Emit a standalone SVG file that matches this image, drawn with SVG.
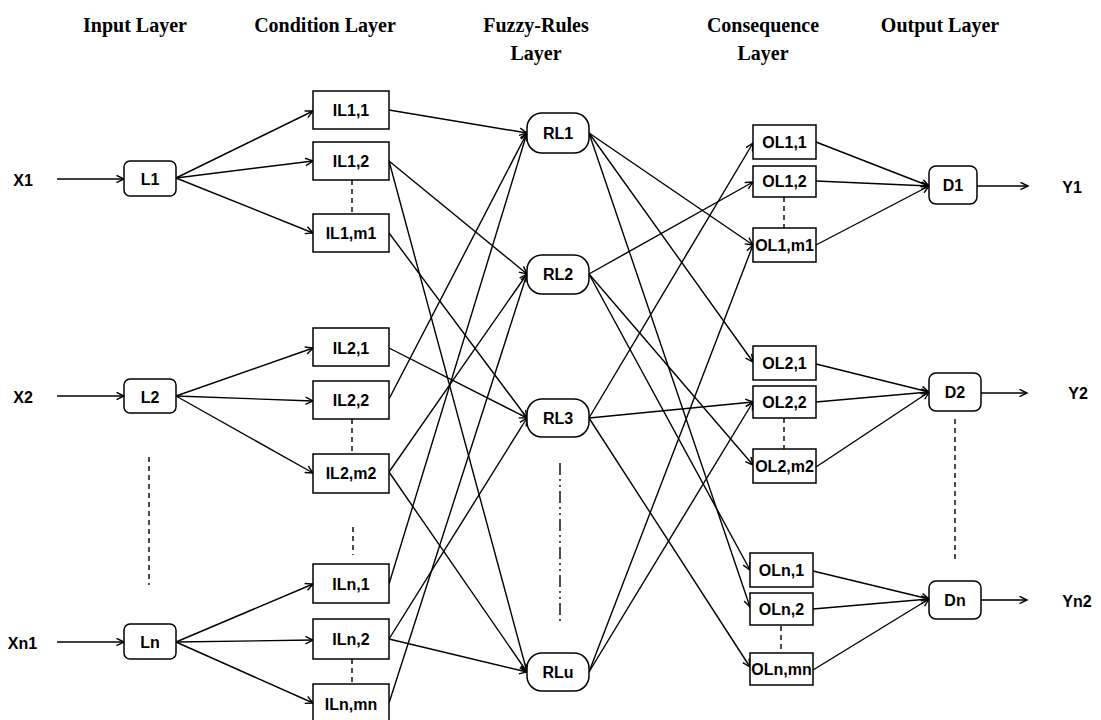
<svg xmlns="http://www.w3.org/2000/svg" width="1101" height="720" viewBox="0 0 1101 720">
  <style>
    .hdr { font-family: "Liberation Serif", "Times New Roman", serif; font-weight: bold; font-size: 20px; fill: #000; text-anchor: middle; }
    .lbl { font-family: "Liberation Sans", Arial, sans-serif; font-weight: bold; font-size: 16px; fill: #000; text-anchor: middle; dominant-baseline: central; }
    .box { fill: #fff; stroke: #000; stroke-width: 1.5; }
    .edge { fill: none; stroke: #000; stroke-width: 1.4; marker-end: url(#arrow); }
    .dash { fill: none; stroke: #000; stroke-width: 1.4; stroke-dasharray: 5 4; }
    .dashdot { fill: none; stroke: #000; stroke-width: 1.4; stroke-dasharray: 12 4 2 4 2 4; }
  </style>
  <defs>
    <marker id="arrow" markerWidth="10" markerHeight="10" refX="8.5" refY="4.5" orient="auto" markerUnits="userSpaceOnUse">
      <path d="M1,0.8 L8.5,4.5 L1,8.2" fill="none" stroke="#000" stroke-width="1.4"/>
    </marker>
  </defs>
  <rect width="1101" height="720" fill="#fff"/>

  <!-- layer headings -->
  <g id="headers">
    <text class="hdr" x="135" y="32">Input Layer</text>
    <text class="hdr" x="325" y="32">Condition Layer</text>
    <text class="hdr" x="536" y="32">Fuzzy-Rules</text>
    <text class="hdr" x="536" y="60">Layer</text>
    <text class="hdr" x="763" y="32">Consequence</text>
    <text class="hdr" x="763" y="60">Layer</text>
    <text class="hdr" x="940" y="32">Output Layer</text>
  </g>

  <!-- connectors -->
  <g id="connectors">
    <!-- inputs -->
    <line class="edge" x1="57" y1="179" x2="124" y2="179"/>
    <line class="edge" x1="57" y1="396" x2="124" y2="396"/>
    <line class="edge" x1="57" y1="642" x2="124" y2="642"/>
    <!-- input layer to condition layer -->
    <line class="edge" x1="176" y1="178" x2="313" y2="111"/>
    <line class="edge" x1="176" y1="178" x2="313" y2="161"/>
    <line class="edge" x1="176" y1="178" x2="313" y2="233"/>
    <line class="edge" x1="176" y1="396" x2="313" y2="348"/>
    <line class="edge" x1="176" y1="396" x2="313" y2="401"/>
    <line class="edge" x1="176" y1="396" x2="313" y2="473"/>
    <line class="edge" x1="176" y1="642" x2="313" y2="584"/>
    <line class="edge" x1="176" y1="642" x2="313" y2="640"/>
    <line class="edge" x1="176" y1="642" x2="313" y2="703"/>
    <!-- condition layer to rules -->
    <line class="edge" x1="389" y1="110" x2="527" y2="133"/>
    <line class="edge" x1="389" y1="161" x2="527" y2="274"/>
    <line class="edge" x1="389" y1="161" x2="527" y2="672"/>
    <line class="edge" x1="389" y1="233" x2="527" y2="418"/>
    <line class="edge" x1="389" y1="348" x2="527" y2="418"/>
    <line class="edge" x1="389" y1="399" x2="527" y2="133"/>
    <line class="edge" x1="389" y1="472" x2="527" y2="274"/>
    <line class="edge" x1="389" y1="472" x2="527" y2="672"/>
    <line class="edge" x1="389" y1="584" x2="527" y2="133"/>
    <line class="edge" x1="389" y1="639" x2="527" y2="418"/>
    <line class="edge" x1="389" y1="639" x2="527" y2="672"/>
    <line class="edge" x1="389" y1="703" x2="527" y2="274"/>
    <!-- rules to consequence layer -->
    <line class="edge" x1="589" y1="133" x2="753" y2="245"/>
    <line class="edge" x1="589" y1="133" x2="753" y2="362"/>
    <line class="edge" x1="589" y1="133" x2="750" y2="607"/>
    <line class="edge" x1="589" y1="274" x2="753" y2="182"/>
    <line class="edge" x1="589" y1="274" x2="753" y2="465"/>
    <line class="edge" x1="589" y1="274" x2="750" y2="570"/>
    <line class="edge" x1="589" y1="418" x2="753" y2="143"/>
    <line class="edge" x1="589" y1="418" x2="753" y2="402"/>
    <line class="edge" x1="589" y1="418" x2="750" y2="667"/>
    <line class="edge" x1="589" y1="672" x2="753" y2="245"/>
    <line class="edge" x1="589" y1="672" x2="753" y2="402"/>
    <!-- consequence layer to output layer -->
    <line class="edge" x1="816" y1="142" x2="929" y2="186"/>
    <line class="edge" x1="816" y1="181" x2="929" y2="186"/>
    <line class="edge" x1="816" y1="245" x2="929" y2="186"/>
    <line class="edge" x1="816" y1="364" x2="929" y2="392"/>
    <line class="edge" x1="816" y1="402" x2="929" y2="392"/>
    <line class="edge" x1="816" y1="467" x2="929" y2="392"/>
    <line class="edge" x1="813" y1="571" x2="929" y2="599"/>
    <line class="edge" x1="813" y1="609" x2="929" y2="599"/>
    <line class="edge" x1="813" y1="670" x2="929" y2="599"/>
    <!-- outputs -->
    <line class="edge" x1="977" y1="186" x2="1028" y2="186"/>
    <line class="edge" x1="981" y1="393" x2="1027" y2="393"/>
    <line class="edge" x1="981" y1="600" x2="1027" y2="600"/>
    <!-- ellipsis marks -->
    <line class="dash" x1="352" y1="180" x2="352" y2="213"/>
    <line class="dash" x1="352" y1="419" x2="352" y2="453"/>
    <line class="dash" x1="352" y1="659" x2="352" y2="684"/>
    <line class="dash" x1="353" y1="527" x2="353" y2="555"/>
    <line class="dash" x1="149" y1="457" x2="149" y2="585"/>
    <line class="dash" x1="784" y1="197" x2="784" y2="228"/>
    <line class="dash" x1="784" y1="418" x2="784" y2="449"/>
    <line class="dash" x1="781" y1="626" x2="781" y2="653"/>
    <line class="dash" x1="955" y1="419" x2="955" y2="560"/>
    <line class="dashdot" x1="560" y1="463" x2="560" y2="624"/>
  </g>

  <!-- input / output terminals -->
  <g id="io-labels">
    <text class="lbl" x="23" y="180">X1</text>
    <text class="lbl" x="23" y="397">X2</text>
    <text class="lbl" x="22.5" y="643">Xn1</text>
    <text class="lbl" x="1072" y="187">Y1</text>
    <text class="lbl" x="1078" y="393">Y2</text>
    <text class="lbl" x="1077" y="601">Yn2</text>
  </g>

  <!-- input layer -->
  <g id="L1"><rect class="box" x="124" y="161" width="52" height="35" rx="6"/><text class="lbl" x="150" y="179">L1</text></g>
  <g id="L2"><rect class="box" x="124" y="379" width="52" height="34" rx="6"/><text class="lbl" x="150" y="397">L2</text></g>
  <g id="Ln"><rect class="box" x="124" y="624" width="52" height="35" rx="6"/><text class="lbl" x="150" y="642">Ln</text></g>

  <!-- condition layer -->
  <g id="IL1-1"><rect class="box" x="313" y="91" width="76" height="38"/><text class="lbl" x="351" y="110">IL1,1</text></g>
  <g id="IL1-2"><rect class="box" x="313" y="142" width="76" height="38"/><text class="lbl" x="351" y="161">IL1,2</text></g>
  <g id="IL1-m1"><rect class="box" x="313" y="214" width="76" height="38"/><text class="lbl" x="351" y="233">IL1,m1</text></g>
  <g id="IL2-1"><rect class="box" x="313" y="328" width="76" height="38"/><text class="lbl" x="351" y="348">IL2,1</text></g>
  <g id="IL2-2"><rect class="box" x="313" y="381" width="76" height="38"/><text class="lbl" x="351" y="400">IL2,2</text></g>
  <g id="IL2-m2"><rect class="box" x="313" y="454" width="76" height="39"/><text class="lbl" x="351" y="473">IL2,m2</text></g>
  <g id="ILn-1"><rect class="box" x="313" y="564" width="76" height="39"/><text class="lbl" x="351" y="584">ILn,1</text></g>
  <g id="ILn-2"><rect class="box" x="313" y="619" width="76" height="40"/><text class="lbl" x="351" y="639">ILn,2</text></g>
  <g id="ILn-mn"><rect class="box" x="313" y="684" width="76" height="40"/><text class="lbl" x="351" y="704">ILn,mn</text></g>

  <!-- fuzzy rules layer -->
  <g id="RL1"><rect class="box" x="527" y="113" width="62" height="40" rx="15"/><text class="lbl" x="558" y="133">RL1</text></g>
  <g id="RL2"><rect class="box" x="527" y="255" width="62" height="39" rx="15"/><text class="lbl" x="558" y="274">RL2</text></g>
  <g id="RL3"><rect class="box" x="527" y="399" width="62" height="38" rx="15"/><text class="lbl" x="558" y="418">RL3</text></g>
  <g id="RLu"><rect class="box" x="527" y="653" width="62" height="38" rx="15"/><text class="lbl" x="558" y="672">RLu</text></g>

  <!-- consequence layer -->
  <g id="OL1-1"><rect class="box" x="753" y="125" width="63" height="34"/><text class="lbl" x="784.5" y="142">OL1,1</text></g>
  <g id="OL1-2"><rect class="box" x="753" y="166" width="63" height="31"/><text class="lbl" x="784.5" y="181">OL1,2</text></g>
  <g id="OL1-m1"><rect class="box" x="753" y="228" width="63" height="34"/><text class="lbl" x="784.5" y="245">OL1,m1</text></g>
  <g id="OL2-1"><rect class="box" x="753" y="346" width="63" height="34"/><text class="lbl" x="784.5" y="363">OL2,1</text></g>
  <g id="OL2-2"><rect class="box" x="753" y="386" width="63" height="32"/><text class="lbl" x="784.5" y="402">OL2,2</text></g>
  <g id="OL2-m2"><rect class="box" x="753" y="449" width="63" height="34"/><text class="lbl" x="784.5" y="466">OL2,m2</text></g>
  <g id="OLn-1"><rect class="box" x="750" y="553" width="63" height="34"/><text class="lbl" x="781.5" y="570">OLn,1</text></g>
  <g id="OLn-2"><rect class="box" x="750" y="593" width="63" height="32"/><text class="lbl" x="781.5" y="609">OLn,2</text></g>
  <g id="OLn-mn"><rect class="box" x="750" y="653" width="63" height="32"/><text class="lbl" x="781.5" y="669">OLn,mn</text></g>

  <!-- output layer -->
  <g id="D1"><rect class="box" x="929" y="166" width="48" height="38" rx="7"/><text class="lbl" x="953" y="185">D1</text></g>
  <g id="D2"><rect class="box" x="929" y="373" width="52" height="38" rx="7"/><text class="lbl" x="955" y="392">D2</text></g>
  <g id="Dn"><rect class="box" x="929" y="581" width="52" height="38" rx="7"/><text class="lbl" x="955" y="600">Dn</text></g>
</svg>
